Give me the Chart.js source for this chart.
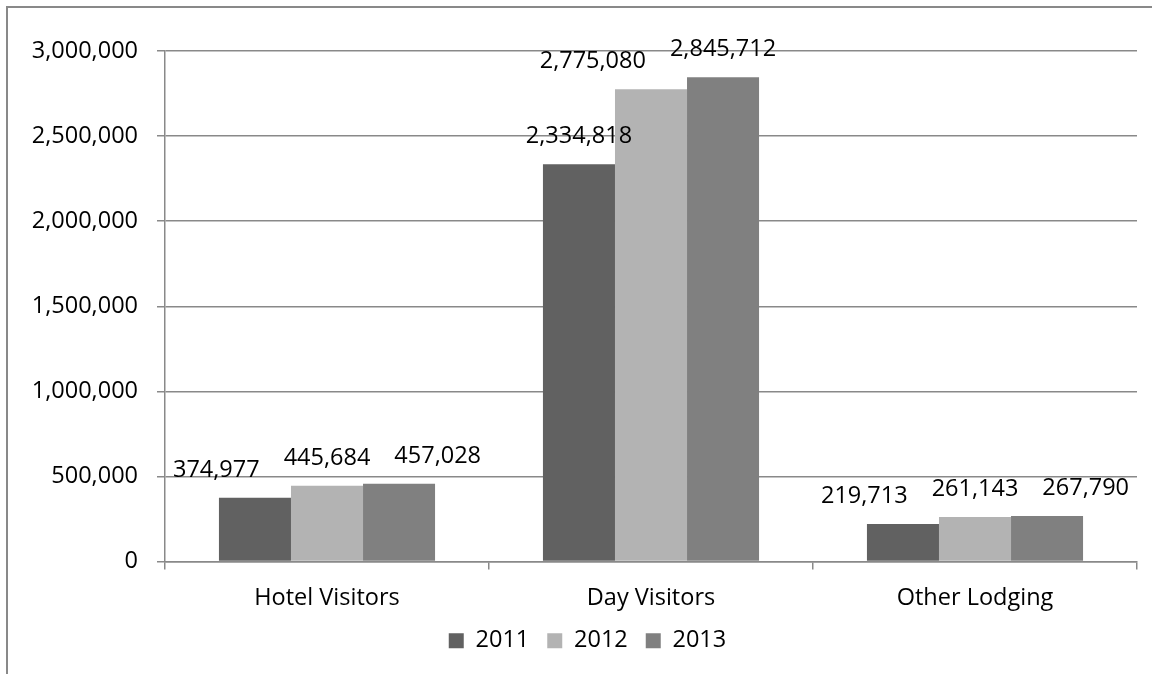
<!DOCTYPE html>
<html>
<head>
<meta charset="utf-8">
<title>Visitors by Type</title>
<script src="https://cdn.jsdelivr.net/npm/chart.js@4.4.0/dist/chart.umd.min.js"></script>
<style>
  html, body { margin: 0; padding: 0; width: 1152px; height: 674px; overflow: hidden; background: #fff; }
  #frame { position: absolute; left: 6px; top: 6px; width: 1159px; height: 690px; border: 2px solid #898989; }
  canvas { display: block; }
</style>
</head>
<body>
<div id="frame"><canvas id="visitorChart" width="1159" height="690"></canvas></div>
<script>
const categories = ["Hotel Visitors", "Day Visitors", "Other Lodging"];
const years = ["2011", "2012", "2013"];
const visitors2011 = [374977, 2334818, 219713];
const visitors2012 = [445684, 2775080, 261143];
const visitors2013 = [457028, 2845712, 267790];
const yTickValues = [0, 500000, 1000000, 1500000, 2000000, 2500000, 3000000];

const barColors = ["#616161", "#b3b3b3", "#808080"];
const gridColor = "#898989";
const font = { family: "'Open Sans', sans-serif", size: 23.5 };

// value labels above each bar, nudged sideways when neighbours collide
const valueLabels = {
  id: "valueLabels",
  afterDatasetsDraw(chart) {
    const ctx = chart.ctx;
    const gap = 24, lift = 21, capH = 17;
    ctx.save();
    ctx.font = font.size + "px " + font.family;
    ctx.fillStyle = "#000";
    ctx.textAlign = "center";
    ctx.textBaseline = "alphabetic";
    chart.data.labels.forEach((_, i) => {
      const boxes = chart.data.datasets.map((ds, d) => {
        const bar = chart.getDatasetMeta(d).data[i];
        const text = ds.data[i].toLocaleString("en-US");
        return { text, x: bar.x, y: bar.y - lift, w: ctx.measureText(text).width };
      });
      const clash = (a, b) =>
        Math.abs(a.y - b.y) < capH && (b.x - b.w / 2) - (a.x + a.w / 2) < gap;
      if (boxes.length === 3 && clash(boxes[0], boxes[1]) && clash(boxes[1], boxes[2])) {
        boxes[0].x = boxes[1].x - boxes[1].w / 2 - gap - boxes[0].w / 2;
        boxes[2].x = boxes[1].x + boxes[1].w / 2 + gap + boxes[2].w / 2;
      } else {
        for (let k = boxes.length - 2; k >= 0; k--) {
          if (clash(boxes[k], boxes[k + 1])) {
            boxes[k].x = boxes[k + 1].x - boxes[k + 1].w / 2 - gap - boxes[k].w / 2;
          }
        }
      }
      boxes.forEach(b => ctx.fillText(b.text, b.x, b.y));
    });
    ctx.restore();
  }
};

const series = [visitors2011, visitors2012, visitors2013];

const ctx = document.getElementById("visitorChart").getContext("2d");
new Chart(ctx, {
  type: "bar",
  data: {
    labels: categories,
    datasets: years.map((year, i) => ({
      label: year,
      data: series[i],
      backgroundColor: barColors[i],
      borderWidth: 0,
      categoryPercentage: 0.667,
      barPercentage: 1
    }))
  },
  options: {
    responsive: false,
    animation: false,
    layout: { padding: { top: 43, left: 0, right: 0, bottom: 35.5 } },
    plugins: {
      tooltip: { enabled: false },
      legend: {
        position: "bottom",
        labels: { boxWidth: 15, boxHeight: 15, padding: 18, color: "#000", font: font }
      }
    },
    scales: {
      x: {
        grid: { drawOnChartArea: false, drawTicks: true, tickLength: 8, color: gridColor, lineWidth: 1.5, offset: true },
        border: { color: gridColor, width: 1.5 },
        ticks: { color: "#000", font: font, padding: 15 },
        afterFit(scale) { scale.height = 49.5; }
      },
      y: {
        min: 0,
        max: 3000000,
        afterBuildTicks(scale) { scale.ticks = yTickValues.map(v => ({ value: v })); },
        grid: { color: gridColor, lineWidth: 1.5, tickLength: 8 },
        border: { color: gridColor, width: 1.5 },
        ticks: { color: "#000", font: font, padding: 19, callback: v => v.toLocaleString("en-US") },
        afterFit(scale) { scale.width = 157; }
      },
      // empty strip on the right so the plot ends short of the frame
      rightGap: {
        type: "linear",
        position: "right",
        grid: { display: false },
        border: { display: false },
        ticks: { display: false },
        afterFit(scale) { scale.width = 30; }
      }
    }
  },
  plugins: [valueLabels]
});
</script>
</body>
</html>
